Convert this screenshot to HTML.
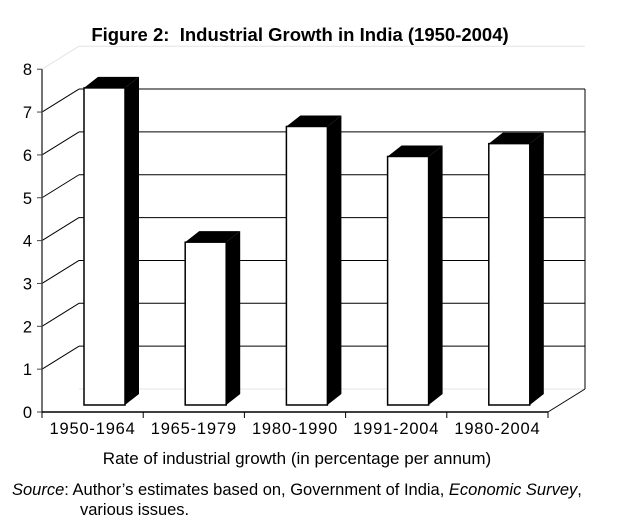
<!DOCTYPE html>
<html><head><meta charset="utf-8"><style>
body{margin:0;background:#fff;}
svg{display:block;font-family:"Liberation Sans",Arial,sans-serif;}
</style></head><body>
<svg id="chart" width="617" height="529" viewBox="0 0 617 529" xmlns="http://www.w3.org/2000/svg">
<text x="300" y="41" text-anchor="middle" font-size="18.5" font-weight="bold">Figure 2:&#160; Industrial Growth in India (1950-2004)</text>
<g id="grid"></g>
<g id="bars"></g>
<g id="axes"></g>
<text x="297" y="464" text-anchor="middle" font-size="17">Rate of industrial growth (in percentage per annum)</text>
<text x="12" y="495" font-size="16.5"><tspan font-style="italic">Source</tspan>:  Author’s estimates based on, Government of India, <tspan font-style="italic">Economic Survey</tspan>,</text>
<text x="80" y="515" font-size="16.5">various issues.</text>
</svg>
<script>
const categories=["1950-1964","1965-1979","1980-1990","1991-2004","1980-2004"];
const values=[7.4,3.8,6.5,5.8,6.1];
const yTicks=[0,1,2,3,4,5,6,7,8];
const NS="http://www.w3.org/2000/svg";
const X0=42,Y0=412,U=42.85,CW=101.2,DX=37,DY=23;
const yS=v=>Y0-v*U;
const xS=i=>X0+i*CW;
function el(t,a,p){const e=document.createElementNS(NS,t);for(const k in a)e.setAttribute(k,a[k]);document.getElementById(p).appendChild(e);return e;}
const R=xS(categories.length);
const topV=yTicks[yTicks.length-2];
yTicks.forEach(v=>{
  const y=yS(v);
  const light=(v===0||v===yTicks[yTicks.length-1]);
  let l=el('line',{x1:X0+DX,y1:y-DY,x2:R+DX,y2:y-DY,stroke:light?'#e4e4e4':'#000','stroke-width':1},'grid');
  
  
  if(v>0){let d=el('line',{x1:X0,y1:y,x2:X0+DX,y2:y-DY,stroke:light?'#e4e4e4':'#000','stroke-width':1},'grid');
  
  }
});
let rw=el('line',{x1:R+DX,y1:yS(topV)-DY,x2:R+DX,y2:Y0-DY,stroke:'#000'},'grid');


let fl=el('line',{x1:R,y1:Y0,x2:R+DX,y2:Y0-DY,stroke:'#000'},'grid');


const BW=41,BO=42,BY=7,SX=14,SY=11;
values.forEach((v,i)=>{
  const x=xS(i)+BO,yb=Y0-BY,yt=yb-v*U;
  let s=el('polygon',{points:`${x+BW},${yt} ${x+BW+SX},${yt-SY} ${x+BW+SX},${yb-SY} ${x+BW},${yb}`,fill:'#000'},'bars');
  
  
  let t=el('polygon',{points:`${x},${yt} ${x+SX},${yt-SY} ${x+BW+SX},${yt-SY} ${x+BW},${yt}`,fill:'#000'},'bars');
  
  
  let f=el('rect',{x:x,y:yt,width:BW,height:v*U,fill:'#fff',stroke:'#000','stroke-width':1.5},'bars');
  
  
});
let ya=el('line',{x1:X0,y1:yS(8),x2:X0,y2:Y0,stroke:'#444','stroke-width':1.5},'axes');


let xa=el('line',{x1:X0,y1:Y0,x2:R,y2:Y0,stroke:'#000','stroke-width':1.5},'axes');


yTicks.forEach(v=>{
  const y=yS(v);
  let tk=el('line',{x1:X0-5,y1:y,x2:X0,y2:y,stroke:'#444'},'axes');
  
  
  let tx=el('text',{x:X0-10,y:y+6,'text-anchor':'end','font-size':16.5},'axes');
  tx.textContent=v;
  
  
});
for(let i=0;i<=categories.length;i++){
  let tk=el('line',{x1:xS(i),y1:Y0,x2:xS(i),y2:Y0+6,stroke:'#000'},'axes');
  
  
}
categories.forEach((c,i)=>{
  let tx=el('text',{x:xS(i)+CW/2,y:Y0+22,'text-anchor':'middle','font-size':16.5,'letter-spacing':'0.8'},'axes');
  tx.textContent=c;
  
  
});
</script>
</body></html>
